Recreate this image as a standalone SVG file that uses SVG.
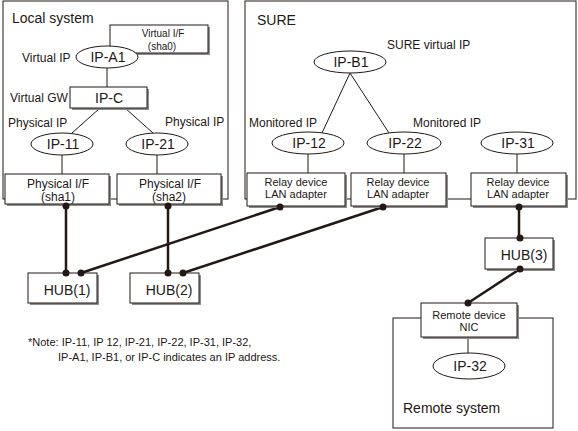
<svg xmlns="http://www.w3.org/2000/svg" width="578" height="431" viewBox="0 0 578 431">
<defs>
<style>
text{font-family:"Liberation Sans",Arial,sans-serif;fill:#231815}
.c{text-anchor:middle}
.cont{fill:none;stroke:#231815;stroke-width:1}
.box{fill:#fff;stroke:#231815;stroke-width:1}
.sh{fill:#8c8c8c}
.ell{fill:#fff;stroke:#231815;stroke-width:1}
.thin{stroke:#231815;stroke-width:1;fill:none}
.thick{stroke:#231815;stroke-width:2.5;fill:none}
.dot{fill:#231815}
.f14{font-size:14px}.f12{font-size:12px}.f11{font-size:11px}.f10{font-size:10px}
</style>
</defs>
<rect width="578" height="431" fill="#fff"/>
<g id="local-system">
<rect class="cont" x="3" y="1" width="225" height="198"/>
<text class="f14" x="12" y="23">Local system</text>
</g>
<g id="sure-system">
<rect class="cont" x="245" y="1" width="331" height="198"/>
<text class="f14" x="257" y="25">SURE</text>
</g>
<g id="remote-system">
<rect class="cont" x="393" y="318" width="160" height="110"/>
<text class="f14" x="403" y="413">Remote system</text>
</g>
<g id="connectors">
<line class="thin" x1="107" y1="68" x2="107" y2="87"/>
<line class="thin" x1="100" y1="108" x2="72" y2="133"/>
<line class="thin" x1="125" y1="108" x2="153" y2="133"/>
<line class="thin" x1="62" y1="155" x2="62" y2="174"/>
<line class="thin" x1="157" y1="155" x2="157" y2="174"/>
<line class="thin" x1="350" y1="73" x2="322" y2="133"/>
<line class="thin" x1="350" y1="73" x2="389" y2="133"/>
<line class="thin" x1="308" y1="154" x2="308" y2="173"/>
<line class="thin" x1="404" y1="154" x2="404" y2="173"/>
<line class="thin" x1="517" y1="154" x2="517" y2="173"/>
<line class="thin" x1="468" y1="337" x2="468" y2="353"/>
<line class="thick" x1="66" y1="206" x2="66" y2="273"/>
<line class="thick" x1="168" y1="206" x2="168" y2="273"/>
<line class="thick" x1="280" y1="207" x2="81" y2="273"/>
<line class="thick" x1="383" y1="207" x2="183" y2="273"/>
<line class="thick" x1="519" y1="207" x2="519" y2="238"/>
<line class="thick" x1="520" y1="269" x2="468" y2="303"/>
</g>
<g id="virtual-if">
<rect class="sh" x="112" y="27" width="98" height="28"/>
<rect class="box" x="110" y="25" width="98" height="28"/>
<text class="f10 c" x="163" y="37">Virtual I/F</text>
<text class="f10 c" x="162" y="50">(sha0)</text>
</g>
<g id="ip-a1">
<ellipse class="ell" cx="107" cy="57" rx="31" ry="11"/>
<text class="f14 c" x="108" y="62">IP-A1</text>
<text class="f12" x="22" y="62">Virtual IP</text>
</g>
<g id="ip-c">
<rect class="sh" x="72" y="89" width="77" height="21"/>
<rect class="box" x="70" y="87" width="77" height="21"/>
<text class="f14 c" x="109" y="103">IP-C</text>
<text class="f12" x="10" y="102">Virtual GW</text>
</g>
<g id="ip-11">
<ellipse class="ell" cx="62" cy="144" rx="31" ry="11"/>
<text class="f14 c" x="63" y="149">IP-11</text>
<text class="f12" x="8" y="127">Physical IP</text>
</g>
<g id="ip-21">
<ellipse class="ell" cx="157" cy="144" rx="31" ry="11"/>
<text class="f14 c" x="158" y="149">IP-21</text>
<text class="f12" x="165" y="126">Physical IP</text>
</g>
<g id="phys-if-sha1">
<rect class="sh" x="7" y="176" width="104" height="30"/>
<rect class="box" x="5" y="174" width="104" height="30"/>
<text class="f12 c" x="58" y="188">Physical I/F</text>
<text class="f12 c" x="58" y="201">(sha1)</text>
<circle class="dot" cx="66" cy="206" r="3.5"/>
</g>
<g id="phys-if-sha2">
<rect class="sh" x="119" y="176" width="104" height="30"/>
<rect class="box" x="117" y="174" width="104" height="30"/>
<text class="f12 c" x="170" y="188">Physical I/F</text>
<text class="f12 c" x="169" y="201">(sha2)</text>
<circle class="dot" cx="168" cy="206" r="3.5"/>
</g>
<g id="ip-b1">
<ellipse class="ell" cx="350" cy="62" rx="36" ry="11"/>
<text class="f14 c" x="351" y="67">IP-B1</text>
<text class="f12" x="387" y="49">SURE virtual IP</text>
</g>
<g id="ip-12">
<ellipse class="ell" cx="308" cy="143" rx="36" ry="11"/>
<text class="f14 c" x="309" y="148">IP-12</text>
<text class="f12" x="249" y="127">Monitored IP</text>
</g>
<g id="ip-22">
<ellipse class="ell" cx="404" cy="143" rx="37" ry="11"/>
<text class="f14 c" x="405" y="148">IP-22</text>
<text class="f12" x="413" y="127">Monitored IP</text>
</g>
<g id="ip-31">
<ellipse class="ell" cx="517" cy="143" rx="36" ry="11"/>
<text class="f14 c" x="518" y="148">IP-31</text>
</g>
<g id="relay-1">
<rect class="sh" x="249" y="175" width="98" height="33"/>
<rect class="box" x="247" y="173" width="98" height="33"/>
<text class="f11 c" x="296" y="186">Relay device</text>
<text class="f11 c" x="296" y="198">LAN adapter</text>
<circle class="dot" cx="280" cy="207" r="3.5"/>
</g>
<g id="relay-2">
<rect class="sh" x="353" y="175" width="95" height="33"/>
<rect class="box" x="351" y="173" width="95" height="33"/>
<text class="f11 c" x="398" y="186">Relay device</text>
<text class="f11 c" x="398" y="198">LAN adapter</text>
<circle class="dot" cx="383" cy="207" r="3.5"/>
</g>
<g id="relay-3">
<rect class="sh" x="473" y="175" width="95" height="33"/>
<rect class="box" x="471" y="173" width="95" height="33"/>
<text class="f11 c" x="518" y="186">Relay device</text>
<text class="f11 c" x="518" y="198">LAN adapter</text>
<circle class="dot" cx="519" cy="207" r="3.5"/>
</g>
<g id="hub-1">
<rect class="sh" x="30" y="275" width="69" height="30"/>
<rect class="box" x="28" y="273" width="69" height="30"/>
<text class="f14 c" x="67" y="295">HUB(1)</text>
<circle class="dot" cx="66" cy="273" r="3.5"/>
<circle class="dot" cx="81" cy="273" r="3.5"/>
</g>
<g id="hub-2">
<rect class="sh" x="132" y="275" width="69" height="30"/>
<rect class="box" x="130" y="273" width="69" height="30"/>
<text class="f14 c" x="169" y="295">HUB(2)</text>
<circle class="dot" cx="168" cy="273" r="3.5"/>
<circle class="dot" cx="183" cy="273" r="3.5"/>
</g>
<g id="hub-3">
<rect class="sh" x="487" y="240" width="68" height="31"/>
<rect class="box" x="485" y="238" width="68" height="31"/>
<text class="f14 c" x="524" y="260">HUB(3)</text>
<circle class="dot" cx="520" cy="238" r="3.5"/>
<circle class="dot" cx="520" cy="269" r="3.5"/>
</g>
<g id="remote-nic">
<rect class="sh" x="423" y="305" width="96" height="34"/>
<rect class="box" x="421" y="303" width="96" height="34"/>
<text class="f11 c" x="469" y="319">Remote device</text>
<text class="f11 c" x="469" y="331">NIC</text>
<circle class="dot" cx="468" cy="303" r="3.5"/>
</g>
<g id="ip-32">
<ellipse class="ell" cx="469" cy="366" rx="36" ry="13"/>
<text class="f14 c" x="470" y="371">IP-32</text>
</g>
<g id="note">
<text class="f11" x="28" y="346">*Note: IP-11, IP 12, IP-21, IP-22, IP-31, IP-32,</text>
<text class="f11" x="58" y="361">IP-A1, IP-B1, or IP-C indicates an IP address.</text>
</g>
</svg>
